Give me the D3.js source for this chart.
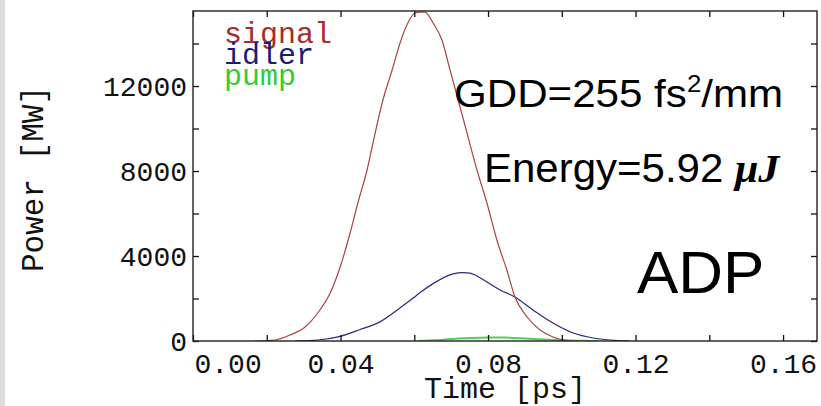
<!DOCTYPE html>
<html>
<head>
<meta charset="utf-8">
<script src="https://cdn.jsdelivr.net/npm/d3@7"></script>
<style>
  html, body { margin: 0; padding: 0; background: #fff; }
  svg { display: block; }
</style>
</head>
<body>
<svg id="chart" width="821" height="406"></svg>
<script>
// ---- data ----
const signalTime  = [0.0168, 0.0222, 0.0263, 0.0304, 0.0344, 0.0372, 0.0399, 0.0426, 0.0447, 0.0472, 0.0488, 0.0515, 0.0540, 0.0561, 0.0580, 0.0602, 0.0616, 0.0629, 0.0651, 0.0675, 0.0697, 0.0719, 0.0743, 0.0770, 0.0797, 0.0824, 0.0851, 0.0873, 0.0906, 0.0941, 0.0976, 0.1022];
const signalPower = [0, 47, 282, 659, 1459, 2259, 3482, 5082, 6494, 8047, 9318, 11341, 12753, 14000, 14871, 15435, 15480, 15480, 14965, 14165, 12753, 11341, 9788, 8047, 6494, 4753, 3341, 2071, 1129, 518, 188, 0];

const idlerTime  = [0.0277, 0.0339, 0.0399, 0.0453, 0.0507, 0.0561, 0.0597, 0.0616, 0.0651, 0.0705, 0.0732, 0.0751, 0.0797, 0.0833, 0.0873, 0.0922, 0.0976, 0.1031, 0.1085, 0.1131, 0.1185];
const idlerPower = [0, 47, 220, 540, 900, 1550, 2020, 2280, 2700, 3160, 3220, 3190, 2776, 2400, 2071, 1459, 847, 376, 141, 47, 0];

const pumpTime  = [0.061, 0.065, 0.070, 0.075, 0.080, 0.085, 0.090, 0.095, 0.100, 0.105, 0.110];
const pumpPower = [0, 30, 90, 140, 165, 160, 120, 70, 35, 10, 0];

const xTicks = [0, 0.02, 0.04, 0.06, 0.08, 0.10, 0.12, 0.14, 0.16];
const xTickLabels = ["0.00", "", "0.04", "", "0.08", "", "0.12", "", "0.16"];
const yTicks = [0, 2000, 4000, 6000, 8000, 10000, 12000, 14000];
const yTickLabels = ["0", "", "4000", "", "8000", "", "12000", ""];

const legendNames  = ["signal", "idler", "pump"];
const seriesColors = ["#a82a2a", "#1c1c78", "#33cc33"];
const lineColors   = ["#a84444", "#2a2a78", "#55cc55"];

// ---- layout ----
const svg = d3.select("#chart");
const L = 193, R = 817, T = 11, B = 341;
const x = d3.scaleLinear().domain([0, 0.1692]).range([L, R]);
const y = d3.scaleLinear().domain([0, 15530]).range([B, T]);
const mono = "'Liberation Mono', 'DejaVu Sans Mono', monospace";
const sans = "'Liberation Sans', Arial, sans-serif";

// left gray strip
svg.append("rect").attr("x", 0).attr("y", 0).attr("width", 5).attr("height", 406).attr("fill", "#dcdcdc");

// ---- curves ----
const series = [
  {t: signalTime, v: signalPower},
  {t: idlerTime, v: idlerPower},
  {t: pumpTime, v: pumpPower}
];
const line = d3.line().x(d => x(d[0])).y(d => y(d[1])).curve(d3.curveMonotoneX);
const plot = svg.append("g");
plot.append("defs").append("clipPath").attr("id", "clip")
  .append("rect").attr("x", L).attr("y", T).attr("width", R - L).attr("height", B - T);
const curves = plot.append("g").attr("clip-path", "url(#clip)");
[2, 1, 0].forEach(i => {
  const s = series[i];
  curves.append("path")
    .attr("d", line(s.t.map((t, k) => [t, s.v[k]])))
    .attr("fill", "none")
    .attr("stroke", lineColors[i])
    .attr("stroke-width", i === 2 ? 2 : 1.2);
});

// ---- axes ----
function styleAxis(g) {
  g.select(".domain").remove();
  g.selectAll(".tick line").attr("stroke", "#111").attr("stroke-width", 1.3);
  g.selectAll(".tick text").attr("font-family", mono).attr("font-size", 28).attr("fill", "#111");
}
const gx = svg.append("g").attr("transform", `translate(0,${B})`)
  .call(d3.axisBottom(x).tickValues(xTicks).tickSizeInner(-6).tickSizeOuter(0)
    .tickPadding(0).tickFormat((d, i) => xTickLabels[i]));
styleAxis(gx);
gx.selectAll(".tick text").attr("y", 32).attr("dy", 0);
gx.selectAll(".tick text").filter((d, i) => i === 0).attr("text-anchor", "start").attr("x", 1);

svg.append("g").attr("transform", `translate(0,${T})`)
  .call(d3.axisTop(x).tickValues(xTicks).tickSizeInner(-6).tickSizeOuter(0).tickFormat(""))
  .call(styleAxis);

const gy = svg.append("g").attr("transform", `translate(${L},0)`)
  .call(d3.axisLeft(y).tickValues(yTicks).tickSizeInner(-6).tickSizeOuter(0)
    .tickPadding(0).tickFormat((d, i) => yTickLabels[i]));
styleAxis(gy);
gy.selectAll(".tick text").attr("x", -6).attr("dy", 9);

svg.append("g").attr("transform", `translate(${R},0)`)
  .call(d3.axisRight(y).tickValues(yTicks).tickSizeInner(-6).tickSizeOuter(0).tickFormat(""))
  .call(styleAxis);

// frame
svg.append("rect").attr("x", L).attr("y", T).attr("width", R - L).attr("height", B - T)
  .attr("fill", "none").attr("stroke", "#222").attr("stroke-width", 1.4);

// axis titles
svg.append("text").attr("x", 505).attr("y", 398)
  .attr("text-anchor", "middle").attr("font-family", mono).attr("font-size", 30).attr("fill", "#111")
  .text("Time [ps]");
svg.append("text").attr("transform", "translate(43,179) rotate(-90)")
  .attr("text-anchor", "middle").attr("font-family", mono).attr("font-size", 31).attr("fill", "#111")
  .text("Power [MW]");

// legend
const legendBase = [43, 64, 85];
legendNames.forEach((n, i) => {
  svg.append("text").attr("x", 224).attr("y", legendBase[i])
    .attr("font-family", mono).attr("font-size", 30).attr("fill", seriesColors[i])
    .text(n);
});

// annotations
const gdd = svg.append("text").attr("transform", "translate(454,107) scale(1.08,1)")
  .attr("font-family", sans).attr("font-size", 39).attr("fill", "#000");
gdd.append("tspan").text("GDD=255 fs");
gdd.append("tspan").attr("font-size", 24).attr("dy", -15).text("2");
gdd.append("tspan").attr("dy", 15).text("/mm");

const en = svg.append("text").attr("transform", "translate(484,182) scale(1.05,1)")
  .attr("font-family", sans).attr("font-size", 40).attr("fill", "#000");
en.append("tspan").text("Energy=5.92 ");
en.append("tspan").attr("font-family", "'Liberation Serif', 'DejaVu Serif', serif")
  .attr("font-weight", "bold").attr("font-style", "italic").text("μJ");

svg.append("text").attr("transform", "translate(637,293) scale(1.05,1)")
  .attr("font-family", sans).attr("font-size", 59).attr("fill", "#000").text("ADP");
</script>
</body>
</html>
